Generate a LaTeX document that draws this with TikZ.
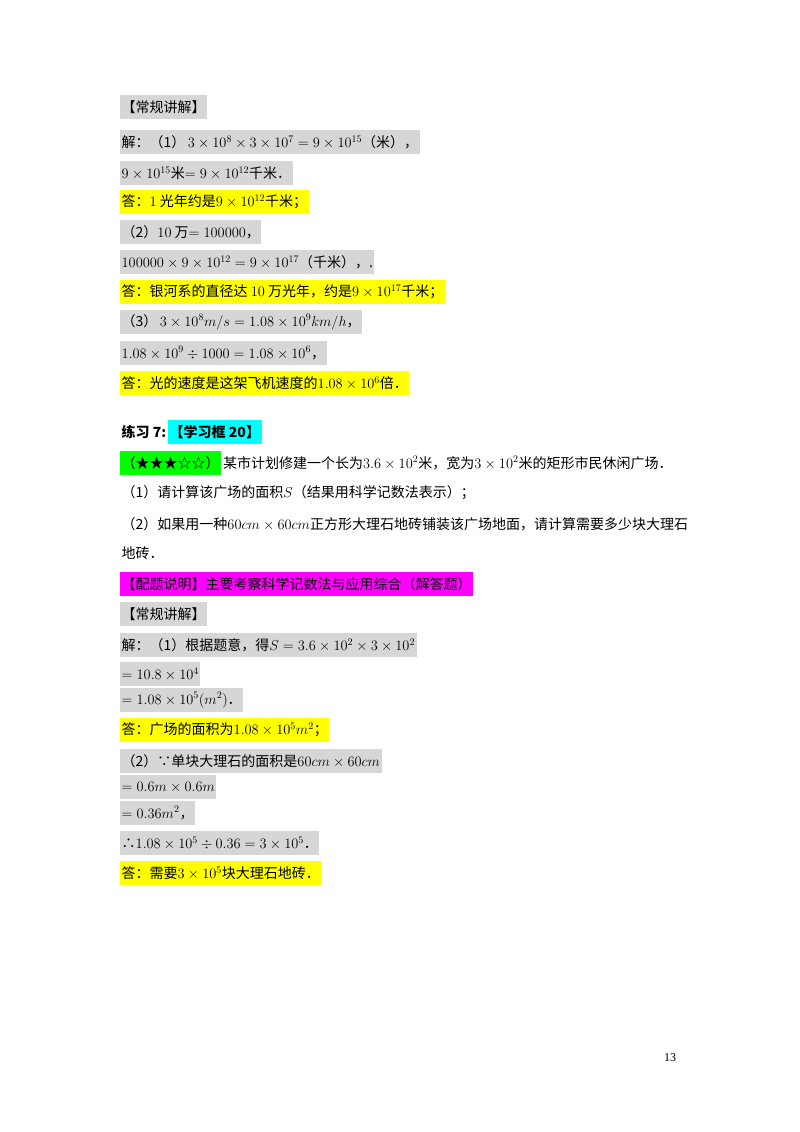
\documentclass[tikz,border=0pt]{standalone}
\usepackage{fontspec}
\setmainfont{Liberation Serif}
\newfontfamily\cjk{Noto Sans CJK SC}
\definecolor{hg}{HTML}{D6D6D6}
\definecolor{hy}{HTML}{FFFF00}
\definecolor{hc}{HTML}{00FFFF}
\definecolor{hn}{HTML}{00FF00}
\definecolor{hm}{HTML}{FF00FF}
\begin{document}
\begin{tikzpicture}[x=1pt,y=-1pt,
  ln/.style={anchor=west,inner xsep=1.5pt,inner ysep=0pt,minimum height=24pt,font=\cjk\fontsize{14}{16}\selectfont},
  g/.style={ln,fill=hg}, yl/.style={ln,fill=hy}]
\useasboundingbox (0,0) rectangle (800,1132);
\node[g] (a1) at (120,107) {【常规讲解】};
\node[g] (a2) at (120,142) {解：（1）\,$3\times10^{8}\times3\times10^{7}=9\times10^{15}$（米），};
\node[g] (a3) at (120,173) {$9\times10^{15}$米$=9\times10^{12}$千米．};
\node[yl] (a4) at (120,202) {答：$1$ 光年约是$9\times10^{12}$千米；};
\node[g] (a5) at (120,232) {（2）$10$ 万$=100000$，};
\node[g] (a6) at (120,262) {$100000\times9\times10^{12}=9\times10^{17}$（千米），.};
\node[yl] (a7) at (120,292) {答：银河系的直径达 $10$ 万光年，约是$9\times10^{17}$千米；};
\node[g] (a8) at (120,322) {（3）\,$3\times10^{8}m/s=1.08\times10^{9}km/h$，};
\node[g] (a9) at (120,353) {$1.08\times10^{9}\div1000=1.08\times10^{6}$，};
\node[yl] (a10) at (120,383) {答：光的速度是这架飞机速度的$1.08\times10^{6}$倍．};
\node[ln,font=\cjk\bfseries\fontsize{14}{16}\selectfont] (t1) at (120,432) {练习 7:};
\node[ln,fill=hc,anchor=west,font=\cjk\bfseries\fontsize{14}{16}\selectfont] (t2) at (t1.east) {【学习框 20】};
\node[ln,fill=hn] (s1) at (120,463) {（★★★☆☆）};
\node[ln] (s2) at (s1.east) {某市计划修建一个长为$3.6\times10^{2}$米，宽为$3\times10^{2}$米的矩形市民休闲广场．};
\node[ln] (q1) at (120,493) {（1）请计算该广场的面积$S$（结果用科学记数法表示）；};
\node[ln] (q2) at (120,524) {（2）如果用一种$60cm\times60cm$正方形大理石地砖铺装该广场地面，请计算需要多少块大理石};
\node[ln] (q3) at (120,553) {地砖．};
\node[ln,fill=hm] (p) at (120,584) {【配题说明】主要考察科学记数法与应用综合（解答题）};
\node[g] (b1) at (120,614) {【常规讲解】};
\node[g] (b2) at (120,645) {解：（1）根据题意，得$S=3.6\times10^{2}\times3\times10^{2}$};
\node[g] (b3) at (120,674) {$=10.8\times10^{4}$};
\node[g] (b4) at (120,700) {$=1.08\times10^{5}(m^{2})$．};
\node[yl] (b5) at (120,730) {答：广场的面积为$1.08\times10^{5}m^{2}$；};
\node[g] (b6) at (120,761) {（2）∵单块大理石的面积是$60cm\times60cm$};
\node[g] (b7) at (120,787) {$=0.6m\times0.6m$};
\node[g] (b8) at (120,813) {$=0.36m^{2}$，};
\node[g] (b9) at (120,843) {∴$1.08\times10^{5}\div0.36=3\times10^{5}$．};
\node[yl] (b10) at (120,873) {答：需要$3\times10^{5}$块大理石地砖．};
\node[font=\fontsize{12}{14}\selectfont] (pg) at (670,1058) {13};
\end{tikzpicture}
\end{document}
